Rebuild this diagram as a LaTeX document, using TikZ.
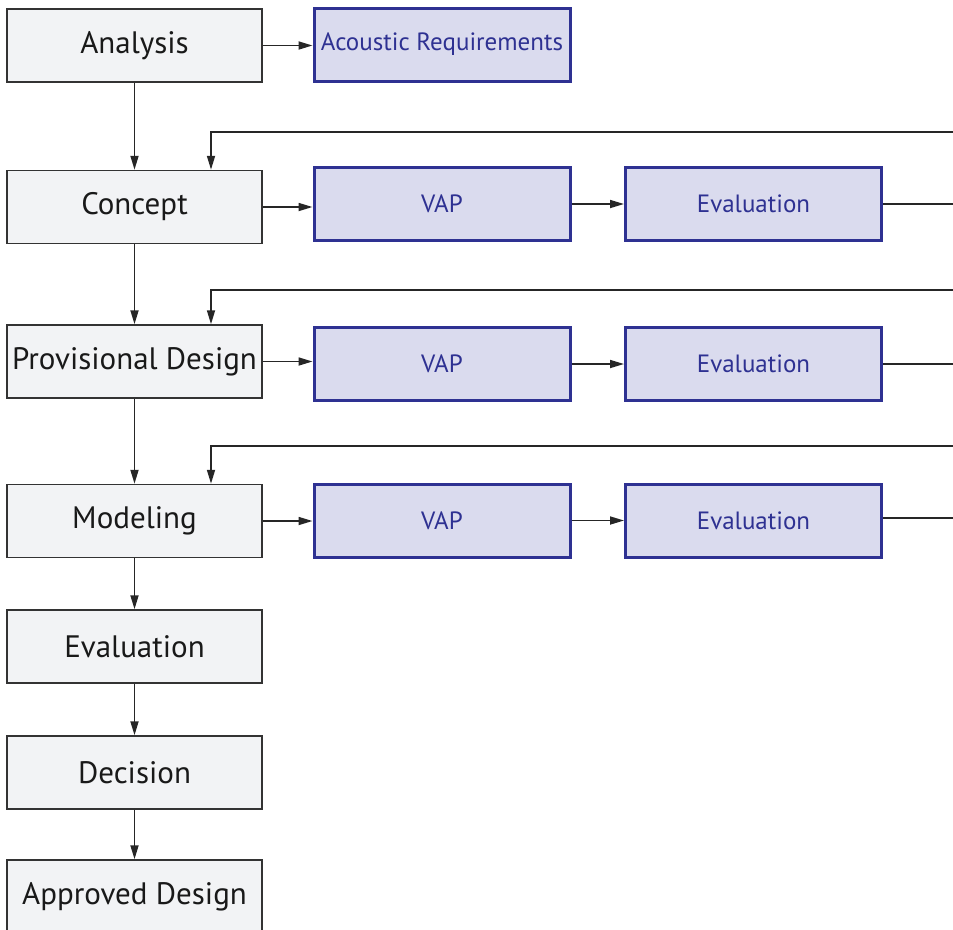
\documentclass[tikz,border=0pt]{standalone}
\usepackage{fontspec}
\setmainfont{PT Sans}
\usetikzlibrary{arrows.meta}
\definecolor{stepgray}{HTML}{F2F3F5}
\definecolor{stepline}{HTML}{333333}
\definecolor{vapfill}{HTML}{DADBEE}
\definecolor{vapblue}{HTML}{2E3192}
\tikzset{
	stepbox/.style={draw=stepline, fill=stepgray, line width=1.5pt,
		minimum width=255pt, minimum height=73pt, inner sep=0pt,
		font=\fontsize{31}{36}\selectfont, text=black!90},
	vapbox/.style={draw=vapblue, fill=vapfill, line width=3pt,
		minimum width=256pt, minimum height=73pt, inner sep=0pt,
		font=\fontsize{25}{30}\selectfont, text=vapblue},
	arr/.style={line width=1.7pt, draw=black!85, -{Triangle[length=14pt,width=8pt]}},
	wire/.style={line width=1.7pt, draw=black!85}
}

\begin{document}
\begin{tikzpicture}[x=1pt,y=-1pt]
		\useasboundingbox (0,0) rectangle (953,929);
		\clip (0,0) rectangle (953,929);

		% left column of steps
		\node[stepbox] (analysis) at (134.5,45.5) {Analysis};
		\node[stepbox] (concept) at (134.5,207) {Concept};
		\node[stepbox] (provdesign) at (134.5,361.5) {Provisional Design};
		\node[stepbox] (modeling) at (134.5,521) {Modeling};
		\node[stepbox] (evaluation) at (134.5,646.5) {Evaluation};
		\node[stepbox] (decision) at (134.5,772.5) {Decision};
		\node[stepbox] (approved) at (134.5,896.5) {Approved Design};

		\draw[arr] (analysis) -- (concept);
		\draw[arr] (concept) -- (provdesign);
		\draw[arr] (provdesign) -- (modeling);
		\draw[arr] (modeling) -- (evaluation);
		\draw[arr] (evaluation) -- (decision);
		\draw[arr] (decision) -- (approved);

		% -----------------------------------------------------
		\node[vapbox] (acoustic) at (442,44.5) {Acoustic Requirements};
		\draw[arr] (analysis.east) -- (analysis.east -| acoustic.west);

		% -----------------------------------------------------
		\node[vapbox] (vapA) at (442,204) {VAP};
		\node[vapbox] (evalA) at (753.5,204) {Evaluation};
		\coordinate (outA) at (953,204);
		\coordinate (backA) at (953,132);
		\draw[arr] (concept.east) -- (concept.east -| vapA.west);
		\draw[arr] (vapA) -- (evalA);
		\draw[wire] (evalA) -- (outA);
		\draw[arr] (backA) -| ([xshift=76.5pt]concept.north);

		% -----------------------------------------------------
		\node[vapbox] (vapB) at (442,364) {VAP};
		\node[vapbox] (evalB) at (753.5,364) {Evaluation};
		\coordinate (outB) at (953,364);
		\coordinate (backB) at (953,290);
		\draw[arr] (provdesign.east) -- (provdesign.east -| vapB.west);
		\draw[arr] (vapB) -- (evalB);
		\draw[wire] (evalB) -- (outB);
		\draw[arr] (backB) -| ([xshift=76.5pt]provdesign.north);

		% -----------------------------------------------------
		\node[vapbox] (vapC) at (442,520.5) {VAP};
		\node[vapbox] (evalC) at (753.5,520.5) {Evaluation};
		\coordinate (outC) at (953,518);
		\coordinate (backC) at (953,446);
		\draw[arr] (modeling.east) -- (modeling.east -| vapC.west);
		\draw[arr] (vapC) -- (evalC);
		\draw[wire] (evalC.east |- outC) -- (outC);
		\draw[arr] (backC) -| ([xshift=76.5pt]modeling.north);
\end{tikzpicture}
\end{document}
